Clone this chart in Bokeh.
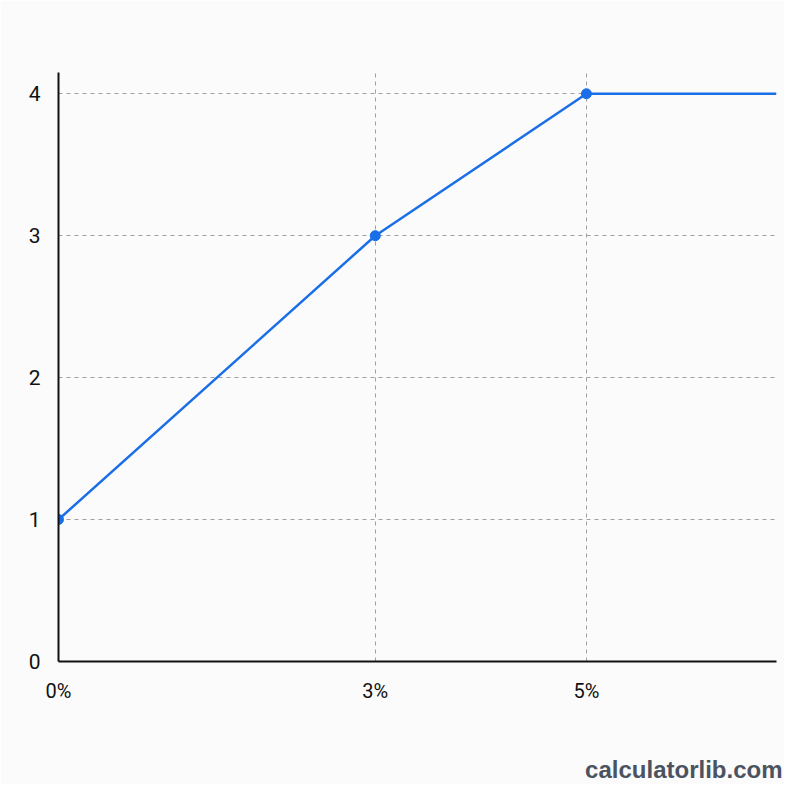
from bokeh.plotting import figure
from bokeh.models import FixedTicker, Range1d, Title
from bokeh.embed import file_html
from bokeh.resources import INLINE

# data
rate_pct = [0, 3, 5]
tier_value = [1, 3, 4]
x_tick_labels = {0: "0%", 3: "3%", 5: "5%"}
y_ticks = [0, 1, 2, 3, 4]
x_max = 6.8
y_max = 4.15

line_x = rate_pct + [x_max]
line_y = tier_value + [tier_value[-1]]

p = figure(width=784, height=784, output_backend="svg", toolbar_location=None,
           x_range=Range1d(0, x_max), y_range=Range1d(0, y_max),
           min_border_left=58, min_border_right=8, min_border_top=72, min_border_bottom=123)
p.background_fill_color = "#fbfbfb"
p.border_fill_color = "#fbfbfb"
p.outline_line_color = None

p.line(line_x, line_y, line_color="#1a6fe8", line_width=2.5)
p.scatter(rate_pct, tier_value, size=10, fill_color="#1a6fe8", line_color="#1a6fe8")

for ax in (p.xaxis[0], p.yaxis[0]):
    ax.axis_line_color = "#111111"
    ax.axis_line_width = 2
    ax.major_tick_line_color = None
    ax.minor_tick_line_color = None
    ax.major_label_text_font = "Roboto"
    ax.major_label_text_color = "#111111"

p.xaxis.ticker = FixedTicker(ticks=rate_pct)
p.xaxis.major_label_overrides = x_tick_labels
p.xaxis.major_label_text_font_size = "20px"
p.xaxis.major_label_standoff = 11

p.yaxis.ticker = FixedTicker(ticks=y_ticks)
p.yaxis.major_label_text_font_size = "21px"
p.yaxis.major_label_standoff = 12

for g in (p.xgrid[0], p.ygrid[0]):
    g.grid_line_color = "#a0a0a0"
    g.grid_line_dash = "4 4"
    g.grid_line_width = 1

# spacer between the axis labels and the watermark
p.add_layout(Title(text=" ", text_font_size="10px", standoff=35), "below")
p.add_layout(Title(text="calculatorlib.com", align="right",
                   text_font="Liberation Sans", text_font_style="bold",
                   text_font_size="24px", text_color="#4b5361",
                   standoff=0, offset=-6), "below")

open("out.html", "w").write(file_html(p, INLINE))
